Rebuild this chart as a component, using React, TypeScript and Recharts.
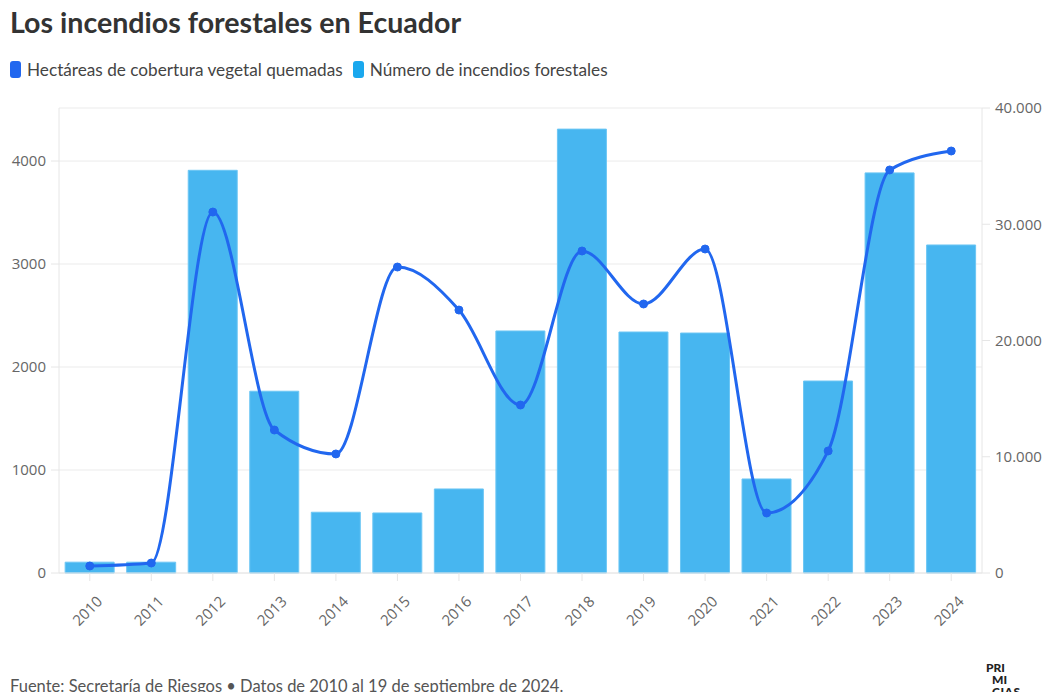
import React from 'react'
import { ComposedChart, Bar, Line, XAxis, YAxis, CartesianGrid } from 'recharts'

const years = ['2010', '2011', '2012', '2013', '2014', '2015', '2016', '2017', '2018', '2019', '2020', '2021', '2022', '2023', '2024']
const incendios = [105, 105, 3910, 1765, 590, 583, 816, 2350, 4310, 2340, 2330, 913, 1864, 3885, 3185]
const hectareas = [600, 860, 31050, 12300, 10240, 26320, 22620, 14450, 27700, 23140, 27870, 5160, 10500, 34670, 36300]
const leftTicks = [0, 1000, 2000, 3000, 4000]
const rightTicks = [0, 10000, 20000, 30000, 40000]

const data = years.map((y, i) => ({ year: y, incendios: incendios[i], hectareas: hectareas[i] }))

const LINE = '#2167ef'
const BAR = '#47b6f0'
const tickFont = { fontFamily: 'Open Sans', fontSize: 15, fill: '#666' }

const fmt = (v: number) => v.toLocaleString('de-DE')

const YearTick = (props: any) => {
    const { x, y, payload } = props
    return (
        <text x={x + 6} y={y + 12} transform={`rotate(-45, ${x + 6}, ${y + 12})`} textAnchor="end" dy="0.71em" {...tickFont}>
            {payload.value}
        </text>
    )
}

const App = () => {
    return (
        <div style={{ position: 'relative', width: 1050, height: 700, margin: -8, background: '#fff', fontFamily: 'Lato' }}>
            <div style={{ position: 'absolute', left: 10, top: 5, fontSize: 28.6, fontWeight: 700, color: '#333' }}>
                Los incendios forestales en Ecuador
            </div>
            <div style={{ position: 'absolute', left: 10, top: 59, fontSize: 17.2, color: '#444', display: 'flex', alignItems: 'center' }}>
                <span style={{ display: 'inline-block', width: 11, height: 17, borderRadius: 3, background: LINE, marginRight: 6 }} />
                <span style={{ marginRight: 10 }}>Hectáreas de cobertura vegetal quemadas</span>
                <span style={{ display: 'inline-block', width: 11, height: 17, borderRadius: 3, background: '#1aa8ee', marginRight: 6 }} />
                <span>Número de incendios forestales</span>
            </div>
            <div style={{ position: 'absolute', left: 0, top: 0 }}>
                <ComposedChart width={1050} height={700} data={data} margin={{ top: 108, right: 8, left: 9, bottom: 67 }} barCategoryGap="10%">
                    <CartesianGrid vertical={false} stroke="#ebebeb" yAxisId="left" />
                    <XAxis dataKey="year" tick={<YearTick />} tickSize={8} stroke="#e6e6e6" height={60} interval={0} />
                    <YAxis yAxisId="left" orientation="left" width={50} domain={[0, 4515]} ticks={leftTicks} tickSize={8} tickMargin={5}
                        stroke="#e6e6e6" tick={tickFont} />
                    <YAxis yAxisId="right" orientation="right" width={60} domain={[0, 40000]} ticks={rightTicks} tickSize={8} tickMargin={5}
                        stroke="#e6e6e6" tick={{ ...tickFont, textAnchor: 'start' }} tickFormatter={fmt} />
                    <Bar yAxisId="left" dataKey="incendios" fill={BAR} stroke="#6cc6f4" strokeWidth={1} isAnimationActive={false} />
                    <Line yAxisId="right" dataKey="hectareas" type="monotone" stroke={LINE} strokeWidth={3}
                        dot={{ r: 4, fill: LINE, stroke: LINE, strokeWidth: 1 }} activeDot={false} isAnimationActive={false} />
                </ComposedChart>
            </div>
            <div style={{ position: 'absolute', left: 10, top: 676, fontSize: 16.5, color: '#555', fontFamily: 'Lato', whiteSpace: 'nowrap' }}>
                Fuente: Secretaría de Riesgos • Datos de 2010 al 19 de septiembre de 2024.
            </div>
            <svg width={60} height={40} style={{ position: 'absolute', left: 980, top: 660 }}>
                <g fontFamily="Lato" fontSize={12} fontWeight={900} fill="#222">
                    <text x={6} y={12}>PRI</text>
                    <text x={12} y={24}>MI</text>
                    <text x={12} y={36} letterSpacing={0.5}>CIAS</text>
                </g>
            </svg>
        </div>
    )
}

export default App
